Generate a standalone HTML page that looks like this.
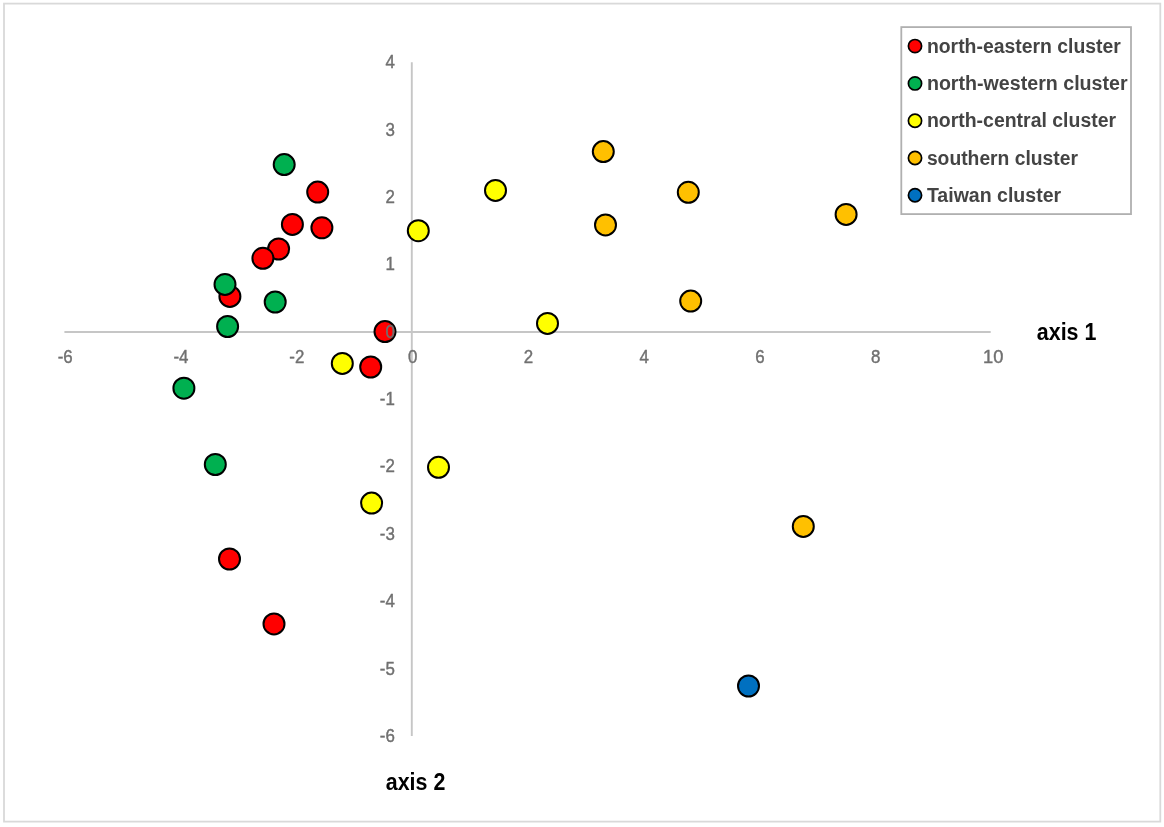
<!DOCTYPE html><html><head><meta charset="utf-8"><style>html,body{margin:0;padding:0;background:#fff;}svg{display:block;}#w{width:1164px;height:827px;overflow:hidden;will-change:transform;}text{font-family:"Liberation Sans",sans-serif;}</style></head><body>
<div id="w"><svg width="1164" height="827" viewBox="0 0 1164 827">
<rect x="0" y="0" width="1164" height="827" fill="#fff"/>
<rect x="4" y="3.6" width="1156.3" height="818" fill="none" stroke="#d9d9d9" stroke-width="1.8"/>
<line x1="64.4" y1="332.0" x2="990.7" y2="332.0" stroke="#c6c6c6" stroke-width="1.9"/>
<line x1="411.8" y1="62.3" x2="411.8" y2="736.1" stroke="#c6c6c6" stroke-width="1.9"/>
<circle cx="317.7" cy="192.1" r="10.5" fill="#FF0000" stroke="#000" stroke-width="2.0"/>
<circle cx="292.4" cy="224.4" r="10.5" fill="#FF0000" stroke="#000" stroke-width="2.0"/>
<circle cx="321.9" cy="227.8" r="10.5" fill="#FF0000" stroke="#000" stroke-width="2.0"/>
<circle cx="278.6" cy="249" r="10.5" fill="#FF0000" stroke="#000" stroke-width="2.0"/>
<circle cx="262.9" cy="258.3" r="10.5" fill="#FF0000" stroke="#000" stroke-width="2.0"/>
<circle cx="229.9" cy="296.4" r="10.5" fill="#FF0000" stroke="#000" stroke-width="2.0"/>
<circle cx="385" cy="331.6" r="10.5" fill="#FF0000" stroke="#000" stroke-width="2.0"/>
<circle cx="370.7" cy="367" r="10.5" fill="#FF0000" stroke="#000" stroke-width="2.0"/>
<circle cx="229.5" cy="559" r="10.5" fill="#FF0000" stroke="#000" stroke-width="2.0"/>
<circle cx="274" cy="623.9" r="10.5" fill="#FF0000" stroke="#000" stroke-width="2.0"/>
<circle cx="284.2" cy="164.6" r="10.5" fill="#00B050" stroke="#000" stroke-width="2.0"/>
<circle cx="225" cy="284.4" r="10.5" fill="#00B050" stroke="#000" stroke-width="2.0"/>
<circle cx="275.2" cy="302" r="10.5" fill="#00B050" stroke="#000" stroke-width="2.0"/>
<circle cx="227.6" cy="326.5" r="10.5" fill="#00B050" stroke="#000" stroke-width="2.0"/>
<circle cx="183.9" cy="388.2" r="10.5" fill="#00B050" stroke="#000" stroke-width="2.0"/>
<circle cx="215.3" cy="464.5" r="10.5" fill="#00B050" stroke="#000" stroke-width="2.0"/>
<circle cx="418.3" cy="230.7" r="10.5" fill="#FFFF00" stroke="#000" stroke-width="2.0"/>
<circle cx="495.5" cy="190.4" r="10.5" fill="#FFFF00" stroke="#000" stroke-width="2.0"/>
<circle cx="547.5" cy="323.4" r="10.5" fill="#FFFF00" stroke="#000" stroke-width="2.0"/>
<circle cx="342.3" cy="363.4" r="10.5" fill="#FFFF00" stroke="#000" stroke-width="2.0"/>
<circle cx="438.5" cy="467.3" r="10.5" fill="#FFFF00" stroke="#000" stroke-width="2.0"/>
<circle cx="371.6" cy="503.1" r="10.5" fill="#FFFF00" stroke="#000" stroke-width="2.0"/>
<circle cx="603.3" cy="151.6" r="10.5" fill="#FFC000" stroke="#000" stroke-width="2.0"/>
<circle cx="605.5" cy="224.9" r="10.5" fill="#FFC000" stroke="#000" stroke-width="2.0"/>
<circle cx="688.3" cy="192.3" r="10.5" fill="#FFC000" stroke="#000" stroke-width="2.0"/>
<circle cx="690.7" cy="301.1" r="10.5" fill="#FFC000" stroke="#000" stroke-width="2.0"/>
<circle cx="846.1" cy="214.4" r="10.5" fill="#FFC000" stroke="#000" stroke-width="2.0"/>
<circle cx="803.3" cy="526.4" r="10.5" fill="#FFC000" stroke="#000" stroke-width="2.0"/>
<circle cx="748.5" cy="686" r="10.5" fill="#0070C0" stroke="#000" stroke-width="2.0"/>
<text transform="translate(65.2,362.6) scale(0.96,1.07)" font-size="17.6" fill="#707070" stroke="#707070" stroke-width="0.4" text-anchor="middle">-6</text>
<text transform="translate(181.0,362.6) scale(0.96,1.07)" font-size="17.6" fill="#707070" stroke="#707070" stroke-width="0.4" text-anchor="middle">-4</text>
<text transform="translate(296.8,362.6) scale(0.96,1.07)" font-size="17.6" fill="#707070" stroke="#707070" stroke-width="0.4" text-anchor="middle">-2</text>
<text transform="translate(412.6,362.6) scale(0.96,1.07)" font-size="17.6" fill="#707070" stroke="#707070" stroke-width="0.4" text-anchor="middle">0</text>
<text transform="translate(528.4,362.6) scale(0.96,1.07)" font-size="17.6" fill="#707070" stroke="#707070" stroke-width="0.4" text-anchor="middle">2</text>
<text transform="translate(644.2,362.6) scale(0.96,1.07)" font-size="17.6" fill="#707070" stroke="#707070" stroke-width="0.4" text-anchor="middle">4</text>
<text transform="translate(760.0,362.6) scale(0.96,1.07)" font-size="17.6" fill="#707070" stroke="#707070" stroke-width="0.4" text-anchor="middle">6</text>
<text transform="translate(875.8,362.6) scale(0.96,1.07)" font-size="17.6" fill="#707070" stroke="#707070" stroke-width="0.4" text-anchor="middle">8</text>
<text transform="translate(993.2,362.6) scale(1.04,1.07)" font-size="17.6" fill="#707070" stroke="#707070" stroke-width="0.4" text-anchor="middle">10</text>
<text transform="translate(394.8,68.1) scale(0.96,1.07)" font-size="17.6" fill="#707070" stroke="#707070" stroke-width="0.4" text-anchor="end">4</text>
<text transform="translate(394.8,135.5) scale(0.96,1.07)" font-size="17.6" fill="#707070" stroke="#707070" stroke-width="0.4" text-anchor="end">3</text>
<text transform="translate(394.8,202.8) scale(0.96,1.07)" font-size="17.6" fill="#707070" stroke="#707070" stroke-width="0.4" text-anchor="end">2</text>
<text transform="translate(394.8,270.2) scale(0.96,1.07)" font-size="17.6" fill="#707070" stroke="#707070" stroke-width="0.4" text-anchor="end">1</text>
<text transform="translate(394.8,337.6) scale(0.96,1.07)" font-size="17.6" fill="#707070" stroke="#707070" stroke-width="0.4" text-anchor="end">0</text>
<text transform="translate(394.8,405.0) scale(0.96,1.07)" font-size="17.6" fill="#707070" stroke="#707070" stroke-width="0.4" text-anchor="end">-1</text>
<text transform="translate(394.8,472.4) scale(0.96,1.07)" font-size="17.6" fill="#707070" stroke="#707070" stroke-width="0.4" text-anchor="end">-2</text>
<text transform="translate(394.8,539.7) scale(0.96,1.07)" font-size="17.6" fill="#707070" stroke="#707070" stroke-width="0.4" text-anchor="end">-3</text>
<text transform="translate(394.8,607.1) scale(0.96,1.07)" font-size="17.6" fill="#707070" stroke="#707070" stroke-width="0.4" text-anchor="end">-4</text>
<text transform="translate(394.8,674.5) scale(0.96,1.07)" font-size="17.6" fill="#707070" stroke="#707070" stroke-width="0.4" text-anchor="end">-5</text>
<text transform="translate(394.8,741.9) scale(0.96,1.07)" font-size="17.6" fill="#707070" stroke="#707070" stroke-width="0.4" text-anchor="end">-6</text>
<text x="1036.8" y="339.8" font-size="23" font-weight="bold" fill="#000" textLength="59.6" lengthAdjust="spacingAndGlyphs">axis 1</text>
<text x="385.8" y="789.8" font-size="23" font-weight="bold" fill="#000" textLength="59.5" lengthAdjust="spacingAndGlyphs">axis 2</text>
<rect x="901.3" y="27.1" width="229.7" height="187" fill="#fff" stroke="#b0b0b0" stroke-width="1.8"/>
<circle cx="915" cy="46.1" r="6.6" fill="#FF0000" stroke="#000" stroke-width="1.7"/>
<text x="926.9" y="52.7" font-size="20" font-weight="bold" fill="#444444" textLength="194.0" lengthAdjust="spacingAndGlyphs">north-eastern cluster</text>
<circle cx="915" cy="83.4" r="6.6" fill="#00B050" stroke="#000" stroke-width="1.7"/>
<text x="926.9" y="90.0" font-size="20" font-weight="bold" fill="#444444" textLength="200.7" lengthAdjust="spacingAndGlyphs">north-western cluster</text>
<circle cx="915" cy="120.7" r="6.6" fill="#FFFF00" stroke="#000" stroke-width="1.7"/>
<text x="926.9" y="127.3" font-size="20" font-weight="bold" fill="#444444" textLength="189.2" lengthAdjust="spacingAndGlyphs">north-central cluster</text>
<circle cx="915" cy="158.0" r="6.6" fill="#FFC000" stroke="#000" stroke-width="1.7"/>
<text x="926.9" y="164.6" font-size="20" font-weight="bold" fill="#444444" textLength="151.1" lengthAdjust="spacingAndGlyphs">southern cluster</text>
<circle cx="915" cy="195.3" r="6.6" fill="#0070C0" stroke="#000" stroke-width="1.7"/>
<text x="926.9" y="201.9" font-size="20" font-weight="bold" fill="#444444" textLength="134.2" lengthAdjust="spacingAndGlyphs">Taiwan cluster</text>
</svg></div></body></html>
